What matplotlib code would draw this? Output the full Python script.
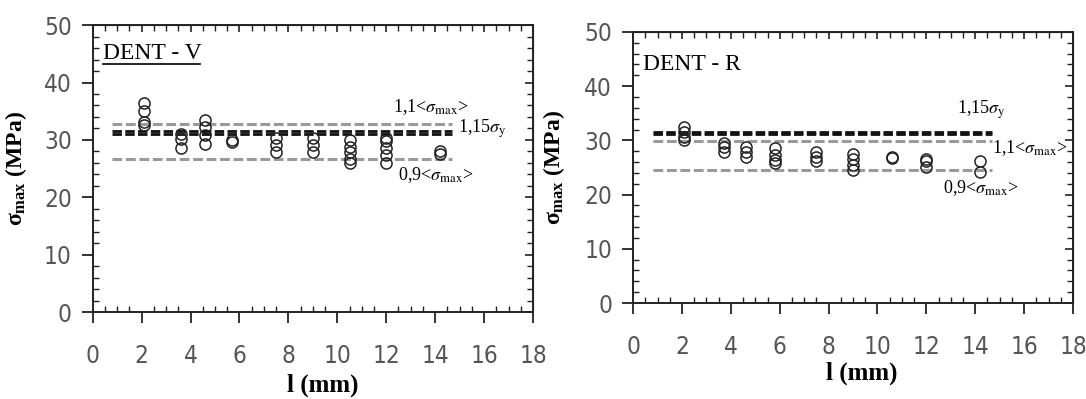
import matplotlib
matplotlib.use("Agg")
import matplotlib.pyplot as plt
from matplotlib.ticker import MultipleLocator

# ---------------- data ----------------
v_x = [2.1, 2.1, 2.1, 2.1,
       3.6, 3.6, 3.6,
       4.6, 4.6, 4.6, 4.6,
       5.7, 5.7,
       7.5, 7.5, 7.5,
       9.0, 9.0, 9.0,
       10.5, 10.5, 10.5, 10.5, 10.5,
       12.0, 12.0, 12.0, 12.0, 12.0,
       14.2, 14.2]
v_y = [36.5, 35.0, 33.2, 32.6,
       31.0, 30.2, 28.6,
       33.5, 32.2, 30.8, 29.2,
       30.0, 29.6,
       30.4, 29.1, 27.9,
       30.3, 29.1, 27.9,
       30.0, 28.8, 27.9, 26.6, 26.0,
       30.4, 29.8, 28.5, 27.4, 25.9,
       28.1, 27.6]
v_lines_gray = [32.7, 26.6]
v_lines_black = [31.6, 31.1]
v_line_x = [0.8, 14.7]

r_x = [2.1, 2.1, 2.1, 2.1,
       3.7, 3.7, 3.7,
       4.6, 4.6, 4.6,
       5.8, 5.8, 5.8, 5.8,
       7.5, 7.5, 7.5,
       9.0, 9.0, 9.0, 9.0,
       10.6, 10.6,
       12.0, 12.0, 12.0,
       14.2, 14.2]
r_y = [32.4, 31.6, 30.7, 30.0,
       29.6, 28.8, 27.8,
       28.8, 27.9, 26.9,
       28.5, 27.3, 26.4, 25.8,
       27.8, 27.0, 26.1,
       27.5, 26.6, 25.5, 24.5,
       27.0, 26.7,
       26.6, 26.1, 25.1,
       26.1, 24.2]
r_lines_gray = [29.9, 24.6]
r_lines_black = [31.6, 31.2]
r_line_x = [0.8, 14.7]

xticks = [0, 2, 4, 6, 8, 10, 12, 14, 16, 18]
yticks = [0, 10, 20, 30, 40, 50]

# ---------------- style ----------------
tick_font = ['DejaVu Sans']
serif = ['Liberation Serif', 'DejaVu Serif']
plt.rcParams['mathtext.fontset'] = 'custom'
plt.rcParams['mathtext.rm'] = 'Liberation Serif:bold'
plt.rcParams['mathtext.it'] = 'Liberation Serif:bold'
plt.rcParams['mathtext.bf'] = 'Liberation Serif:bold'

fig = plt.figure(figsize=(10.86, 3.99), dpi=100)
ax1 = fig.add_axes([0.0854, 0.218, 0.4054, 0.719])
ax2 = fig.add_axes([0.583, 0.2406, 0.405, 0.6794])

def style(ax):
    ax.set_xlim(0, 18)
    ax.set_ylim(0, 50)
    ax.set_xticks(xticks)
    ax.set_yticks(yticks)
    kw = dict(family=tick_font, fontstretch='condensed', fontsize=17.5, color='#555555')
    ax.set_xticklabels([str(t) for t in xticks], **kw)
    ax.set_yticklabels([str(t) for t in yticks], **kw)
    ax.xaxis.set_minor_locator(MultipleLocator(0.5))
    ax.yaxis.set_minor_locator(MultipleLocator(2))
    ax.tick_params(which='major', direction='out', length=8, width=1.3, color='#222222')
    ax.tick_params(axis='x', which='major', pad=15)
    ax.tick_params(axis='y', which='major', pad=7)
    ax.tick_params(which='minor', direction='in', length=4, width=1.0, color='#222222')
    for s in ax.spines.values():
        s.set_linewidth(1.4)
        s.set_color('#222222')
    sx = ax.secondary_xaxis('top')
    sx.set_xticks(xticks)
    sx.xaxis.set_minor_locator(MultipleLocator(0.5))
    sx.tick_params(which='both', direction='in', labeltop=False, color='#222222')
    sx.tick_params(which='major', length=5, width=1.2)
    sx.tick_params(which='minor', length=4, width=1.0)
    sy = ax.secondary_yaxis('right')
    sy.set_yticks(yticks)
    sy.yaxis.set_minor_locator(MultipleLocator(2))
    sy.tick_params(which='both', direction='in', labelright=False, color='#222222')
    sy.tick_params(which='major', length=6, width=1.2)
    sy.tick_params(which='minor', length=4, width=1.0)
    ax.set_xlabel('l (mm)', family=serif, fontweight='bold', fontsize=18)
    ax.set_ylabel(r'$\sigma_{\mathrm{max}}$ (MPa)', family=serif, fontweight='bold', fontsize=17)

def draw(ax, xs, ys, gray, black, lx):
    for yv in gray:
        ax.plot(lx, [yv, yv], color='#9a9a9a', lw=2.2, dashes=(3.2, 1.2), zorder=2)
    for yv in black:
        ax.plot(lx, [yv, yv], color='#111111', lw=2.0, dashes=(3.4, 1.2), zorder=3)
    ax.plot(xs, ys, ls='none', marker='o', ms=8, mfc='none', mec='#222222', mew=1.1, zorder=4)

style(ax1)
style(ax2)
draw(ax1, v_x, v_y, v_lines_gray, v_lines_black, v_line_x)
draw(ax2, r_x, r_y, r_lines_gray, r_lines_black, r_line_x)

ax1.xaxis.set_label_coords(0.523, -0.215)
ax1.yaxis.set_label_coords(-0.145, 0.5)
ax2.xaxis.set_label_coords(0.52, -0.215)
ax2.yaxis.set_label_coords(-0.15, 0.5)

ann = dict(family=serif, fontsize=13, math_fontfamily='stix', va='center', ha='left')
ax1.text(0.42, 45.1, 'DENT - V', family=serif, fontsize=17, va='center', ha='left')
ax1.plot([0.42, 4.4], [43.2, 43.2], color='k', lw=1.2)
ax1.text(12.28, 35.7, r'1,1<$\sigma_{\mathrm{max}}$>', **ann)
ax1.text(14.94, 32.0, r'1,15$\sigma_{\mathrm{y}}$', **ann)
ax1.text(12.48, 23.9, r'0,9<$\sigma_{\mathrm{max}}$>', **ann)

ax2.text(0.41, 43.9, 'DENT - R', family=serif, fontsize=17, va='center', ha='left')
ax2.text(13.26, 35.6, r'1,15$\sigma_{\mathrm{y}}$', **ann)
ax2.text(14.69, 28.6, r'1,1<$\sigma_{\mathrm{max}}$>', clip_on=False, **ann)
ax2.text(12.68, 21.2, r'0,9<$\sigma_{\mathrm{max}}$>', **ann)

fig.savefig('out.png', dpi=100)
